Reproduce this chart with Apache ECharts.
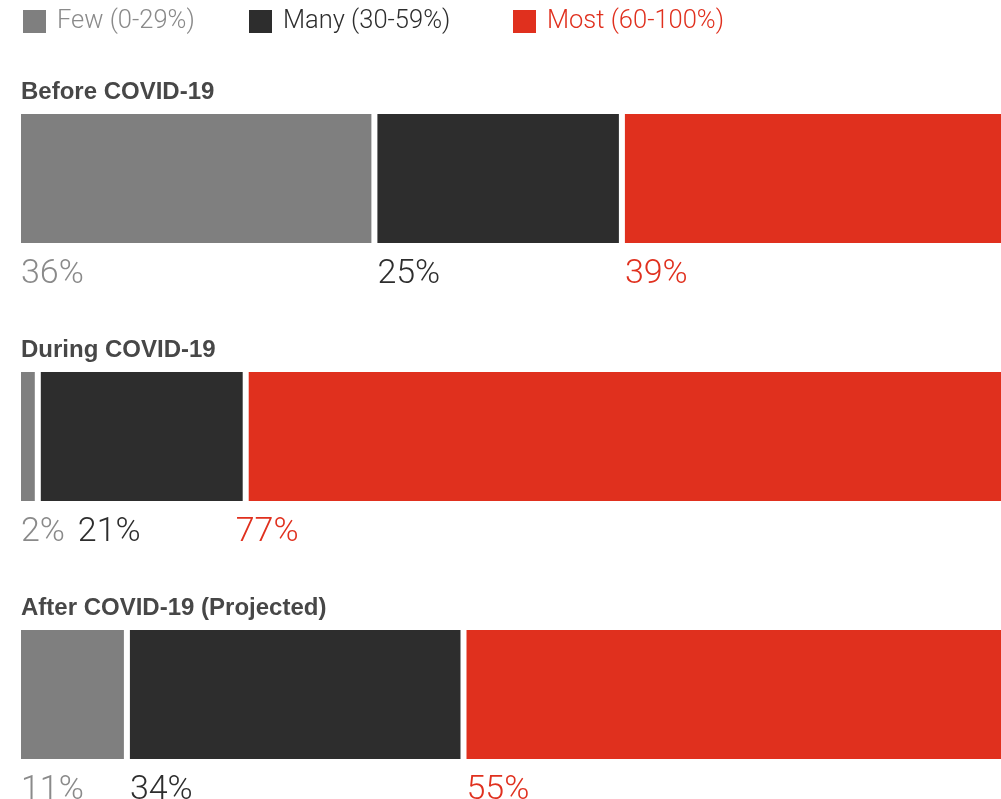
<!DOCTYPE html>
<html>
<head>
<meta charset="utf-8">
<style>
  html, body { margin: 0; padding: 0; background: #ffffff; }
  #chart { width: 1001px; height: 799px; }
</style>
<script src="https://cdn.jsdelivr.net/npm/echarts@6/dist/echarts.min.js"></script>
</head>
<body>
<div id="chart"></div>
<script>
// Share of workforce working remotely, by period
const categories = ['Before COVID-19', 'During COVID-19', 'After COVID-19 (Projected)'];
const seriesNames = ['Few (0-29%)', 'Many (30-59%)', 'Most (60-100%)'];
const fewValues = [36, 2, 11];
const manyValues = [25, 21, 34];
const mostValues = [39, 77, 55];

const colors = ['#7f7f7f', '#2d2d2d', '#e0301e'];
const labelColors = ['#8a8a8a', '#2d2d2d', '#e0301e'];
const LABEL_FONT = 'Roboto, "Liberation Sans", sans-serif';

// Horizontal nudges for labels that would otherwise collide (row index -> series index -> px)
const labelNudge = { 1: { 1: 37, 2: -13 } };

const valueSets = [fewValues, manyValues, mostValues];

const chart = echarts.init(document.getElementById('chart'), null, { renderer: 'canvas' });

const LABEL_Y = 163;
const series = valueSets.map((vals, s) => ({
  name: seriesNames[s],
  type: 'bar',
  stack: 'share',
  barWidth: 135,
  itemStyle: { color: colors[s], borderColor: '#ffffff', borderWidth: 3 },
  label: {
    show: true,
    position: [3, LABEL_Y],
    align: 'left',
    verticalAlign: 'middle',
    formatter: '{c}%',
    color: labelColors[s],
    fontFamily: LABEL_FONT,
    fontWeight: 300,
    fontSize: 34
  },
  data: vals.map((v, r) => {
    const dx = (labelNudge[r] && labelNudge[r][s]) || 0;
    return dx ? { value: v, label: { position: [3 + dx, LABEL_Y] } } : v;
  })
}));

const legendLefts = [21, 247, 511];
const legends = seriesNames.map((n, i) => ({
  data: [n],
  left: legendLefts[i],
  top: 8,
  padding: 0,
  itemWidth: 25,
  itemHeight: 25,
  icon: 'rect',
  selectedMode: false,
  textStyle: {
    color: labelColors[i],
    fontFamily: LABEL_FONT,
    fontWeight: 300,
    fontSize: 25.5,
    padding: [0, 0, 0, 5]
  }
}));

chart.setOption({
  animation: false,
  backgroundColor: '#ffffff',
  legend: legends,
  // the red segments run off the right edge, and the last row's band past the bottom
  grid: { left: 18, width: 990, top: 49.5, height: 774, containLabel: false, outerBoundsMode: 'none' },
  xAxis: { type: 'value', min: 0, max: 100, show: false },
  yAxis: { type: 'category', data: categories, inverse: true, show: false },
  series: series
});

// Row headings sit just above each bar, placed from the category axis
const headings = categories.map((c) => {
  const cy = chart.convertToPixel({ yAxisIndex: 0 }, c);
  return {
    type: 'text',
    left: 21,
    top: cy - 64.5 - 22 - 12,
    style: {
      text: c,
      fill: '#474747',
      font: 'bold 24px "Liberation Sans", Arial, sans-serif'
    }
  };
});
chart.setOption({ graphic: headings });
</script>
</body>
</html>
